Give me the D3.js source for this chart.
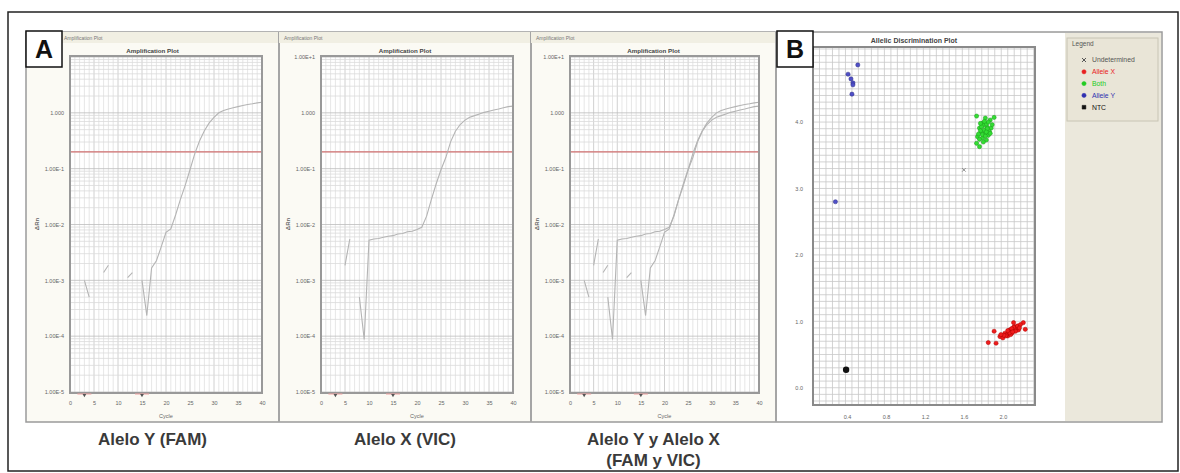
<!DOCTYPE html>
<html>
<head>
<meta charset="utf-8">
<script src="https://cdn.jsdelivr.net/npm/d3@7"></script>
<style>
  body { margin: 0; background: #fff; }
  svg { display: block; font-family: "Liberation Sans", Arial, sans-serif; }
</style>
</head>
<body>
<svg width="1180" height="473"></svg>
<script>

// amplification curves (delta Rn per cycle, null = not plotted on log scale)
const cycles = [1, 2, 3, 4, 5, 6, 7, 8, 9, 10, 11, 12, 13, 14, 15, 16, 17, 18, 19, 20,
  21, 22, 23, 24, 25, 26, 27, 28, 29, 30, 31, 32, 33, 34, 35, 36, 37, 38, 39, 40]

const famRn = [null, null, 0.0010, 0.00050, null, null, 0.00138, 0.00186, null, null,
  null, 0.00112, 0.00138, null, 0.0010, 0.000234, 0.00166, 0.00224, 0.00398, 0.00724,
  0.00832, 0.0148, 0.0282, 0.0501, 0.0955, 0.186, 0.316, 0.479, 0.661, 0.832,
  1.00, 1.10, 1.17, 1.23, 1.29, 1.35, 1.41, 1.45, 1.51, 1.55]

const vicRn = [null, null, null, null, 0.00186, 0.00550, null, 0.00050, 0.0000871, 0.00525,
  0.00550, 0.00562, 0.00589, 0.00617, 0.00631, 0.00676, 0.00692, 0.00741, 0.00759, 0.00813,
  0.0089, 0.0141, 0.0282, 0.0537, 0.0955, 0.158, 0.302, 0.468, 0.617, 0.741,
  0.832, 0.891, 0.955, 1.02, 1.07, 1.12, 1.17, 1.23, 1.29, 1.32]

const threshold = 0.2
const baselineCycles = [3, 15]
const logTicks = [1e-5, 1e-4, 1e-3, 1e-2, 1e-1, 1, 10]
const logTickLabels = ["1.00E-5", "1.00E-4", "1.00E-3", "1.00E-2", "1.00E-1", "1.000", "1.00E+1"]
const cycleTicks = [0, 5, 10, 15, 20, 25, 30, 35, 40]
const captions = [["Alelo Y (FAM)"], ["Alelo X (VIC)"], ["Alelo Y y Alelo X", "(FAM y VIC)"]]

// allelic discrimination (x = Allele X, y = Allele Y)
const alleleX = [[1.85, 0.68], [1.93, 0.67], [1.91, 0.85], [1.97, 0.77], [2.02, 0.82], [2.07, 0.87],
  [2.12, 0.92], [2.11, 0.98], [2.21, 0.98], [2.23, 0.88], [2.16, 0.87], [2.00, 0.75], [2.05, 0.78],
  [2.14, 0.90], [2.09, 0.82], [2.04, 0.80], [2.06, 0.84], [2.10, 0.86], [2.08, 0.80], [2.12, 0.88],
  [2.03, 0.78], [2.01, 0.79], [2.15, 0.93], [2.13, 0.85], [2.07, 0.83], [2.11, 0.91], [2.18, 0.95],
  [1.98, 0.80], [2.09, 0.89], [2.05, 0.86], [2.17, 0.90], [2.10, 0.84]]
const both = [[1.73, 4.09], [1.91, 4.07], [1.79, 3.98], [1.84, 3.92], [1.78, 3.85], [1.82, 3.83],
  [1.74, 3.78], [1.85, 3.80], [1.73, 3.68], [1.76, 3.63], [1.87, 4.03], [1.88, 3.91], [1.79, 3.76],
  [1.83, 3.73], [1.76, 3.91], [1.82, 4.06], [1.80, 3.95], [1.81, 3.88], [1.77, 3.87], [1.83, 3.97],
  [1.86, 3.86], [1.79, 3.81], [1.84, 3.90], [1.78, 3.93], [1.82, 3.79], [1.85, 4.00], [1.80, 3.70],
  [1.76, 3.74], [1.89, 3.96], [1.81, 4.01], [1.77, 3.98], [1.83, 3.85], [1.87, 3.83], [1.75, 3.82]]
const alleleY = [[0.51, 4.86], [0.41, 4.72], [0.44, 4.65], [0.46, 4.59], [0.46, 4.56], [0.45, 4.42], [0.28, 2.80]]
const undetermined = [[1.60, 3.28]]
const ntc = [[0.39, 0.27]]
const scatterXTicks = [0.4, 0.8, 1.2, 1.6, 2.0]
const scatterYTicks = [0, 1, 2, 3, 4]

const legendItems = [
  { name: "Undetermined", color: "#555", symbol: "x" },
  { name: "Allele X", color: "#e82020", symbol: "dot" },
  { name: "Both", color: "#22cc22", symbol: "dot" },
  { name: "Allele Y", color: "#3030b0", symbol: "dot" },
  { name: "NTC", color: "#111", symbol: "square" },
]

const svg = d3.select("svg")

// outer frame and the software window
svg.append("rect")
  .attr("x", 8).attr("y", 12).attr("width", 1170).attr("height", 459)
  .attr("fill", "#fff").attr("stroke", "#222").attr("stroke-width", 1.5)

svg.append("rect")
  .attr("x", 26).attr("y", 32).attr("width", 1136).attr("height", 390)
  .attr("fill", "#fbfaf4").attr("stroke", "#9a9a9a").attr("stroke-width", 1.5)

// the A label hides the left window's top tick label and part of its title bar
const windows = [
  { x0: 26, x1: 279, plot: [70, 262], series: [famRn], titleX: 64, hideTop: true },
  { x0: 279, x1: 531, plot: [321, 513], series: [vicRn], titleX: 284, hideTop: false },
  { x0: 531, x1: 776, plot: [570, 759], series: [famRn, vicRn], titleX: 536, hideTop: false },
]

windows.forEach((w, i) => {
  const g = svg.append("g")
  const cx = (w.x0 + w.x1) / 2

  g.append("rect")
    .attr("x", w.x0).attr("y", 32).attr("width", w.x1 - w.x0).attr("height", 11)
    .attr("fill", "#f1efe3")
  g.append("line")
    .attr("x1", w.x1).attr("x2", w.x1).attr("y1", 32).attr("y2", 422)
    .attr("stroke", "#a5a5a5").attr("stroke-width", 2)
  g.append("text")
    .attr("x", w.titleX).attr("y", 40)
    .attr("font-size", 5).attr("fill", "#777")
    .text("Amplification Plot")

  const x = d3.scaleLinear().domain([0, 40]).range(w.plot)
  const y = d3.scaleLog().domain([1e-5, 10]).range([392, 57])

  g.append("rect")
    .attr("x", w.plot[0]).attr("y", 56)
    .attr("width", w.plot[1] - w.plot[0]).attr("height", 337)
    .attr("fill", "#fff")

  g.append("g").selectAll("line")
    .data(x.ticks(40))
    .join("line")
      .attr("x1", d => x(d)).attr("x2", d => x(d))
      .attr("y1", 56).attr("y2", 393)
      .attr("stroke", d => d % 5 === 0 ? "#c4c4c4" : "#e0e0e0")
      .attr("stroke-width", 0.8)

  g.append("g").selectAll("line")
    .data(y.ticks())
    .join("line")
      .attr("x1", w.plot[0]).attr("x2", w.plot[1])
      .attr("y1", d => y(d)).attr("y2", d => y(d))
      .attr("stroke", d => Number.isInteger(Math.round(Math.log10(d) * 1000) / 1000) ? "#bdbdbd" : "#dadada")
      .attr("stroke-width", 0.8)

  g.append("line")
    .attr("x1", w.plot[0]).attr("x2", w.plot[1])
    .attr("y1", y(threshold)).attr("y2", y(threshold))
    .attr("stroke", "#d27070").attr("stroke-width", 1.2)

  const line = d3.line()
    .defined(d => d[1] != null)
    .x(d => x(d[0]))
    .y(d => y(d[1]))

  w.series.forEach(s => {
    g.append("path")
      .datum(cycles.map((c, k) => [c, s[k]]))
      .attr("d", line)
      .attr("fill", "none")
      .attr("stroke", "#b4b4b4")
      .attr("stroke-width", 1.1)
  })

  g.append("rect")
    .attr("x", w.plot[0]).attr("y", 56)
    .attr("width", w.plot[1] - w.plot[0]).attr("height", 337)
    .attr("fill", "none").attr("stroke", "#999").attr("stroke-width", 2)

  baselineCycles.forEach(c => {
    g.append("line")
      .attr("x1", x(c) - 7).attr("x2", x(c) + 7)
      .attr("y1", 394).attr("y2", 394)
      .attr("stroke", "#f0a0a0").attr("stroke-width", 1)
    g.append("path")
      .attr("d", d3.symbol().type(d3.symbolTriangle).size(6))
      .attr("transform", `translate(${x(c)},395) rotate(180)`)
      .attr("fill", "#555")
  })

  const ticks = w.hideTop ? logTicks.slice(0, -1) : logTicks
  const yAxis = g.append("g")
    .attr("transform", `translate(${w.plot[0]},0)`)
    .call(d3.axisLeft(y).tickValues(ticks).tickFormat((d, k) => logTickLabels[k]).tickSize(0).tickPadding(6))
  yAxis.select(".domain").remove()
  yAxis.selectAll("text").attr("font-size", 5.5).attr("fill", "#666").attr("font-family", null)

  const xAxis = g.append("g")
    .attr("transform", "translate(0,393)")
    .call(d3.axisBottom(x).tickValues(cycleTicks).tickSize(0).tickPadding(8))
  xAxis.select(".domain").remove()
  xAxis.selectAll("text").attr("font-size", 5.5).attr("fill", "#666").attr("font-family", null)

  g.append("text")
    .attr("x", (w.plot[0] + w.plot[1]) / 2).attr("y", 418)
    .attr("text-anchor", "middle").attr("font-size", 5.5).attr("fill", "#666")
    .text("Cycle")

  g.append("text")
    .attr("transform", `translate(${w.plot[0] - 31},224) rotate(-90)`)
    .attr("text-anchor", "middle").attr("font-size", 6).attr("font-weight", "bold").attr("fill", "#666")
    .text("ΔRn")

  g.append("text")
    .attr("x", cx).attr("y", 53)
    .attr("text-anchor", "middle").attr("font-size", 6.2).attr("font-weight", "bold").attr("fill", "#444")
    .text("Amplification Plot")

  captions[i].forEach((t, k) => {
    g.append("text")
      .attr("x", cx).attr("y", 445 + k * 21)
      .attr("text-anchor", "middle")
      .attr("font-size", 17).attr("font-weight", "bold").attr("fill", "#3a3a3a")
      .text(t)
  })
})

// allelic discrimination window
const sx = d3.scaleLinear().domain([0.05, 2.33]).range([813, 1035])
const sy = d3.scaleLinear().domain([-0.26, 5.13]).range([405, 47])

svg.append("rect")
  .attr("x", 777).attr("y", 33).attr("width", 288).attr("height", 388)
  .attr("fill", "#fff")

svg.append("rect")
  .attr("x", 1065).attr("y", 33).attr("width", 96).attr("height", 388)
  .attr("fill", "#ebe8dc")

svg.append("rect")
  .attr("x", 813).attr("y", 47).attr("width", 222).attr("height", 358)
  .attr("fill", "#fff")

svg.append("g").selectAll("line")
  .data(d3.range(0.05 + 0.4 / 6, 2.33, 0.4 / 6))
  .join("line")
    .attr("x1", d => sx(d)).attr("x2", d => sx(d))
    .attr("y1", 47).attr("y2", 405)
    .attr("stroke", "#c8c8c8").attr("stroke-width", 0.8)

svg.append("g").selectAll("line")
  .data(d3.range(-0.2, 5.13, 0.1))
  .join("line")
    .attr("x1", 813).attr("x2", 1035)
    .attr("y1", d => sy(d)).attr("y2", d => sy(d))
    .attr("stroke", "#c8c8c8").attr("stroke-width", 0.8)

svg.append("rect")
  .attr("x", 813).attr("y", 47).attr("width", 222).attr("height", 358)
  .attr("fill", "none").attr("stroke", "#8a8a8a").attr("stroke-width", 2)

const sxAxis = svg.append("g")
  .attr("transform", "translate(0,405)")
  .call(d3.axisBottom(sx).tickValues(scatterXTicks).tickFormat(d3.format(".1f")).tickSize(0).tickPadding(10))
sxAxis.select(".domain").remove()
sxAxis.selectAll("text").attr("font-size", 5.5).attr("fill", "#666").attr("font-family", null)

const syAxis = svg.append("g")
  .attr("transform", "translate(813,0)")
  .call(d3.axisLeft(sy).tickValues(scatterYTicks).tickFormat(d3.format(".1f")).tickSize(0).tickPadding(10))
syAxis.select(".domain").remove()
syAxis.selectAll("text").attr("font-size", 5.5).attr("fill", "#666").attr("font-family", null)

svg.append("text")
  .attr("x", 914).attr("y", 43)
  .attr("text-anchor", "middle").attr("font-size", 7).attr("font-weight", "bold").attr("fill", "#444")
  .text("Allelic Discrimination Plot")

const dotGroups = [
  { data: both, fill: "#33dd33", stroke: "#1a9a1a" },
  { data: alleleX, fill: "#ee1c1c", stroke: "#b00000" },
  { data: alleleY, fill: "#5050c8", stroke: "#2a2a80" },
]

dotGroups.forEach(grp => {
  svg.append("g").selectAll("circle")
    .data(grp.data)
    .join("circle")
      .attr("cx", d => sx(d[0]))
      .attr("cy", d => sy(d[1]))
      .attr("r", 2.1)
      .attr("fill", grp.fill)
      .attr("stroke", grp.stroke)
      .attr("stroke-width", 0.5)
})

svg.append("g").selectAll("path")
  .data(undetermined)
  .join("path")
    .attr("d", d3.symbol().type(d3.symbolX).size(10))
    .attr("transform", d => `translate(${sx(d[0])},${sy(d[1])})`)
    .attr("fill", "none").attr("stroke", "#777").attr("stroke-width", 0.8)

svg.append("g").selectAll("circle")
  .data(ntc)
  .join("circle")
    .attr("cx", d => sx(d[0]))
    .attr("cy", d => sy(d[1]))
    .attr("r", 3.2)
    .attr("fill", "#111")

// legend
svg.append("rect")
  .attr("x", 1067).attr("y", 38).attr("width", 91).attr("height", 83)
  .attr("fill", "#e9e5d7").attr("stroke", "#c8c4b4").attr("stroke-width", 1)

svg.append("text")
  .attr("x", 1072).attr("y", 46)
  .attr("font-size", 6.5).attr("fill", "#555")
  .text("Legend")

const legend = svg.append("g").selectAll("g")
  .data(legendItems)
  .join("g")
    .attr("transform", (d, i) => `translate(1084,${60 + i * 11.8})`)

legend.append("path")
  .attr("d", d => d3.symbol().type(d.symbol === "x" ? d3.symbolX : d.symbol === "square" ? d3.symbolSquare : d3.symbolCircle).size(d.symbol === "x" ? 12 : 14)())
  .attr("fill", d => d.symbol === "x" ? "none" : d.color)
  .attr("stroke", d => d.color)
  .attr("stroke-width", d => d.symbol === "x" ? 1 : 0.5)

legend.append("text")
  .attr("x", 8).attr("y", 2.3)
  .attr("font-size", 6.8)
  .attr("fill", d => d.color)
  .text(d => d.name)

// panel labels
const panelLabels = [
  { text: "A", x: 26 },
  { text: "B", x: 777 },
]

panelLabels.forEach(p => {
  svg.append("rect")
    .attr("x", p.x).attr("y", 31).attr("width", 36).attr("height", 36)
    .attr("fill", "#fff").attr("stroke", "#111").attr("stroke-width", 1.5)
  svg.append("text")
    .attr("x", p.x + 18).attr("y", 58)
    .attr("text-anchor", "middle")
    .attr("font-size", 25).attr("font-weight", "bold").attr("fill", "#111")
    .text(p.text)
})

</script>
</body>
</html>
